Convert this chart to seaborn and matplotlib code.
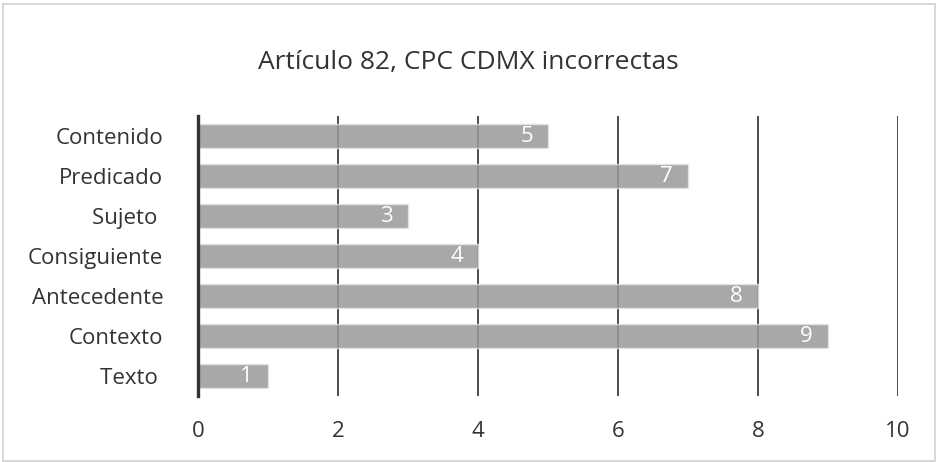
import matplotlib
matplotlib.use("Agg")
import matplotlib.pyplot as plt
import matplotlib.patches as patches
import seaborn as sns

categories = ['Contenido', 'Predicado', 'Sujeto ', 'Consiguiente', 'Antecedente', 'Contexto', 'Texto ']
values = [5, 7, 3, 4, 8, 9, 1]
x_ticks = [0, 2, 4, 6, 8, 10]
title = 'Artículo 82, CPC CDMX incorrectas'

sns.set_style('white')
plt.rcParams['font.family'] = ['Open Sans', 'DejaVu Sans']

fig = plt.figure(figsize=(9.37, 4.62), dpi=100)
ax = fig.add_axes([198 / 937, 1 - 396 / 462, 700 / 937, 280 / 462])

sns.barplot(x=values, y=categories, orient='h', color='#999999', saturation=1,
            alpha=0.85, width=0.58, edgecolor='#e6e6e6', linewidth=1, ax=ax)

ax.set_xlim(0, 10)
ax.set_ylim(6.5, -0.5)
ax.set_xticks(x_ticks)
ax.set_xticklabels([str(t) for t in x_ticks])
ax.set_axisbelow(True)
ax.grid(axis='x', color='#1a1a1a', linewidth=1.1)
ax.grid(axis='y', visible=False)
for s in ['top', 'right', 'bottom']:
    ax.spines[s].set_visible(False)
ax.spines['left'].set_color('#333333')
ax.spines['left'].set_linewidth(2.4)
ax.spines['left'].set_zorder(3)
ax.tick_params(axis='x', length=0, pad=18, labelsize=16, labelcolor='#333333')
ax.tick_params(axis='y', length=0, pad=25, labelsize=16, labelcolor='#333333')
ax.set_xlabel('')
ax.set_ylabel('')

for c in ax.containers:
    ax.bar_label(c, padding=-20, color='white', fontsize=16)

fig.text(0.5, 1 - 62 / 462, title, ha='center', va='center', fontsize=19, color='#333333')

fig.patches.append(patches.Rectangle((3 / 937, 1 / 462), 932 / 937, 457 / 462,
                                     transform=fig.transFigure, fill=False,
                                     edgecolor='#d0d0d0', linewidth=1.2))

fig.savefig('out.png', dpi=100)
